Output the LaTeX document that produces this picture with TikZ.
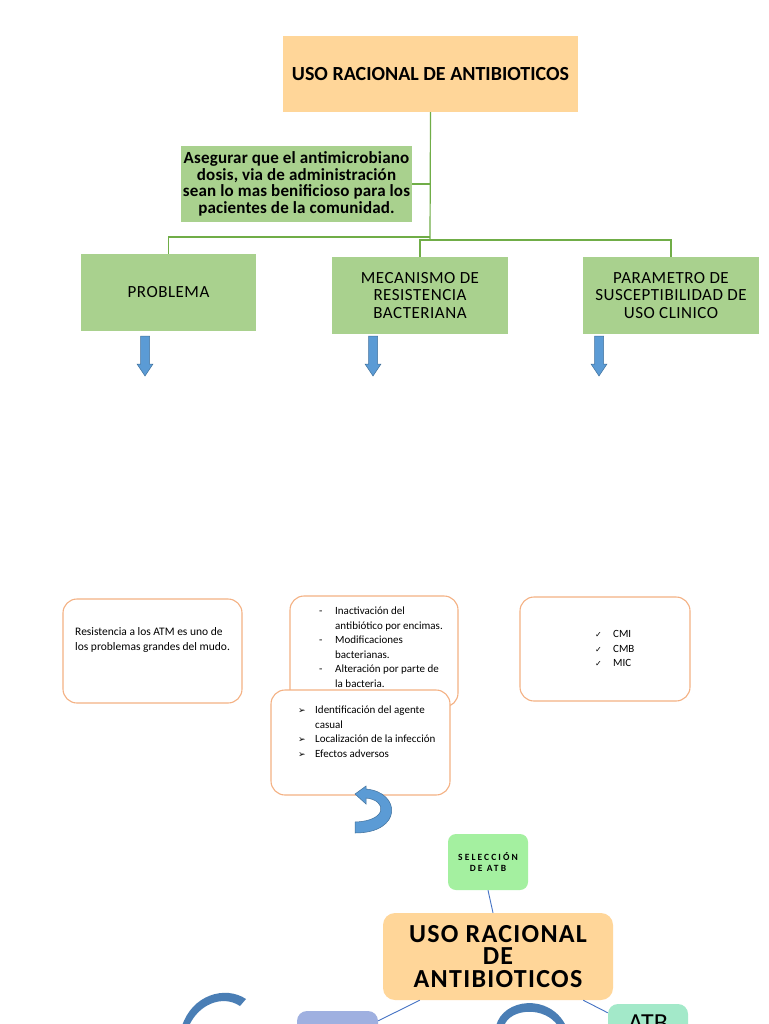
\documentclass[tikz,border=0pt]{standalone}
\usepackage{fontspec}
\setmainfont{Carlito}
\newfontfamily\symfont{DejaVu Sans}
\definecolor{orfill}{HTML}{FFD699}
\definecolor{grfill}{HTML}{A9D18E}
\definecolor{grline}{HTML}{70AD47}
\definecolor{orline}{HTML}{F4B183}
\definecolor{blarrow}{HTML}{5B9BD5}
\definecolor{blline}{HTML}{41719C}
\definecolor{selfill}{HTML}{A4F0A0}
\definecolor{purfill}{HTML}{9FB0E0}
\definecolor{mintfill}{HTML}{A3E9C9}
\definecolor{conn}{HTML}{4472C4}
\definecolor{arcblue}{HTML}{4A7EB5}
\tikzset{
  topbox/.style={fill=orfill, inner sep=0pt, align=center, font=\bfseries\fontsize{20}{22}\selectfont},
  greenbox/.style={fill=grfill, inner sep=0pt, align=center},
  gtext/.style={font=\fontsize{17}{17.5}\selectfont\addfontfeature{LetterSpace=3}},
  roundbox/.style={draw=orline, line width=1.1pt, rounded corners=14pt, fill=white},
  small/.style={inner sep=0pt, align=left, font=\fontsize{11}{14.6}\selectfont},
  grconn/.style={draw=grline, line width=1.2pt},
  bconn/.style={draw=conn, line width=0.9pt},
  downarr/.pic={\filldraw[fill=blarrow, draw=blline, line width=0.5pt] (-4.5,0) -- (4.5,0) -- (4.5,28) -- (8,28) -- (0,40) -- (-8,28) -- (-4.5,28) -- cycle;}
}
\newcommand{\bul}{{\symfont\fontsize{9}{10}\selectfont ➢}}
\newcommand{\chk}{{\symfont\fontsize{8}{10}\selectfont ✓}}
\begin{document}
\begin{tikzpicture}[x=1pt,y=-1pt]
\useasboundingbox (0,0) rectangle (768,1024);
\clip (0,0) rectangle (768,1024);
\fill[white] (0,0) rectangle (768,1024);

% top part
\node[topbox, minimum width=295pt, minimum height=76pt] (top) at (430.5,74) {USO RACIONAL DE ANTIBIOTICOS};
\node[greenbox, minimum width=231pt, minimum height=76pt, font=\bfseries\fontsize{17}{16.7}\selectfont\addfontfeature{LetterSpace=1}] (goal) at (296.5,184)
  {Asegurar que el antimicrobiano\\dosis, via de administración\\sean lo mas benificioso para los\\pacientes de la comunidad.};
\node[greenbox, gtext, minimum width=175pt, minimum height=77pt] (prob) at (168.5,292.5) {PROBLEMA};
\node[greenbox, gtext, minimum width=176pt, minimum height=77pt] (mec) at (420,295.5) {MECANISMO DE\\RESISTENCIA\\BACTERIANA};
\node[greenbox, gtext, minimum width=176pt, minimum height=77pt] (par) at (671,295.5) {PARAMETRO DE\\SUSCEPTIBILIDAD DE\\USO CLINICO};

\coordinate (j1) at (430,237);
\coordinate (j2) at (430,240);
\coordinate (jg) at (430,184);
\draw[grconn] (top.south) -- (j2);
\draw[grconn] (goal.east) -- (jg);
\draw[grconn] (j1) -| (prob.north);
\draw[grconn] (j2) -| (mec.north);
\draw[grconn] (j2) -| (par.north);

\pic at (145,336) {downarr};
\pic at (373,336) {downarr};
\pic at (599,336) {downarr};

% middle rounded boxes
\node[roundbox, minimum width=179pt, minimum height=104pt] (ba) at (152.5,651) {};
\node[small, anchor=north west, font=\fontsize{11.5}{15}\selectfont] (bat) at (75,627.5) {Resistencia a los ATM es uno de\\los problemas grandes del mudo.};

\node[roundbox, minimum width=168pt, minimum height=111pt] (bb) at (374,651.5) {};
\node[small, anchor=north west] (bbt) at (319,604) {\begin{tabular}{@{}p{16pt}@{}l@{}}
- & Inactivación del\\
 & antibiótico por encimas.\\
- & Modificaciones\\
 & bacterianas.\\
- & Alteración por parte de\\
 & la bacteria.
\end{tabular}};

\node[roundbox, minimum width=179pt, minimum height=105pt] (bc) at (360.5,742.5) {};
\node[small, anchor=north west] (bct) at (298,703) {\begin{tabular}{@{}p{17pt}@{}l@{}}
\bul & Identificación del agente\\
 & casual\\
\bul & Localización de la infección\\
\bul & Efectos adversos
\end{tabular}};

\node[roundbox, minimum width=170pt, minimum height=104pt] (bd) at (605,649) {};
\node[small, anchor=north west] (bdt) at (595,627) {\begin{tabular}{@{}p{18pt}@{}l@{}}
\chk & CMI\\
\chk & CMB\\
\chk & MIC
\end{tabular}};

% curved arrow under box C
\filldraw[fill=blarrow, draw=blline, line width=0.5pt]
  (355,833) .. controls (403,833) and (401,792) .. (366,789) -- (366,786) -- (355,794) -- (366,804) -- (366,798)
  .. controls (387,800) and (388,821) .. (355,822) -- cycle;

% bottom part
\node[fill=selfill, rounded corners=8pt, minimum width=80pt, minimum height=56pt, inner sep=0pt, align=center,
  font=\bfseries\fontsize{9.5}{11}\selectfont\addfontfeature{LetterSpace=22}] (sel) at (488,862) {SELECCIÓN\\DE ATB};
\node[fill=orfill, rounded corners=12pt, minimum width=230pt, minimum height=87pt, inner sep=0pt, align=center,
  font=\bfseries\fontsize{26}{22.7}\selectfont\addfontfeature{LetterSpace=5}] (big) at (498,956.5) {USO RACIONAL\\DE\\ANTIBIOTICOS};
\node[fill=purfill, rounded corners=10pt, minimum width=81pt, minimum height=50pt, inner sep=0pt] (pur) at (337.5,1036) {};
\node[fill=mintfill, rounded corners=10pt, minimum width=80pt, minimum height=50pt, inner sep=0pt] (atb) at (648,1029) {};
\node[anchor=north, inner sep=0pt, font=\fontsize{26}{28}\selectfont] (atbt) at (648,1015) {ATB};

\draw[bconn] (sel.south) -- ([xshift=5pt]sel.south |- big.north);
\draw[bconn] ([xshift=37pt]big.south west) -- ([yshift=-10pt]pur.north east);
\draw[bconn] ([xshift=-30pt]big.south east) -- ([yshift=-9pt]atb.north west);

% decorative arcs
\fill[arcblue] (182,1026) .. controls (192,995) and (225,985) .. (246,999) -- (240,1006)
  .. controls (222,994) and (198,1005) .. (189,1026) -- cycle;
\fill[arcblue] (496,1026) .. controls (503,998) and (550,993) .. (566,1026) -- (558,1026)
  .. controls (545,1006) and (510,1008) .. (504,1026) -- cycle;
\end{tikzpicture}
\end{document}
